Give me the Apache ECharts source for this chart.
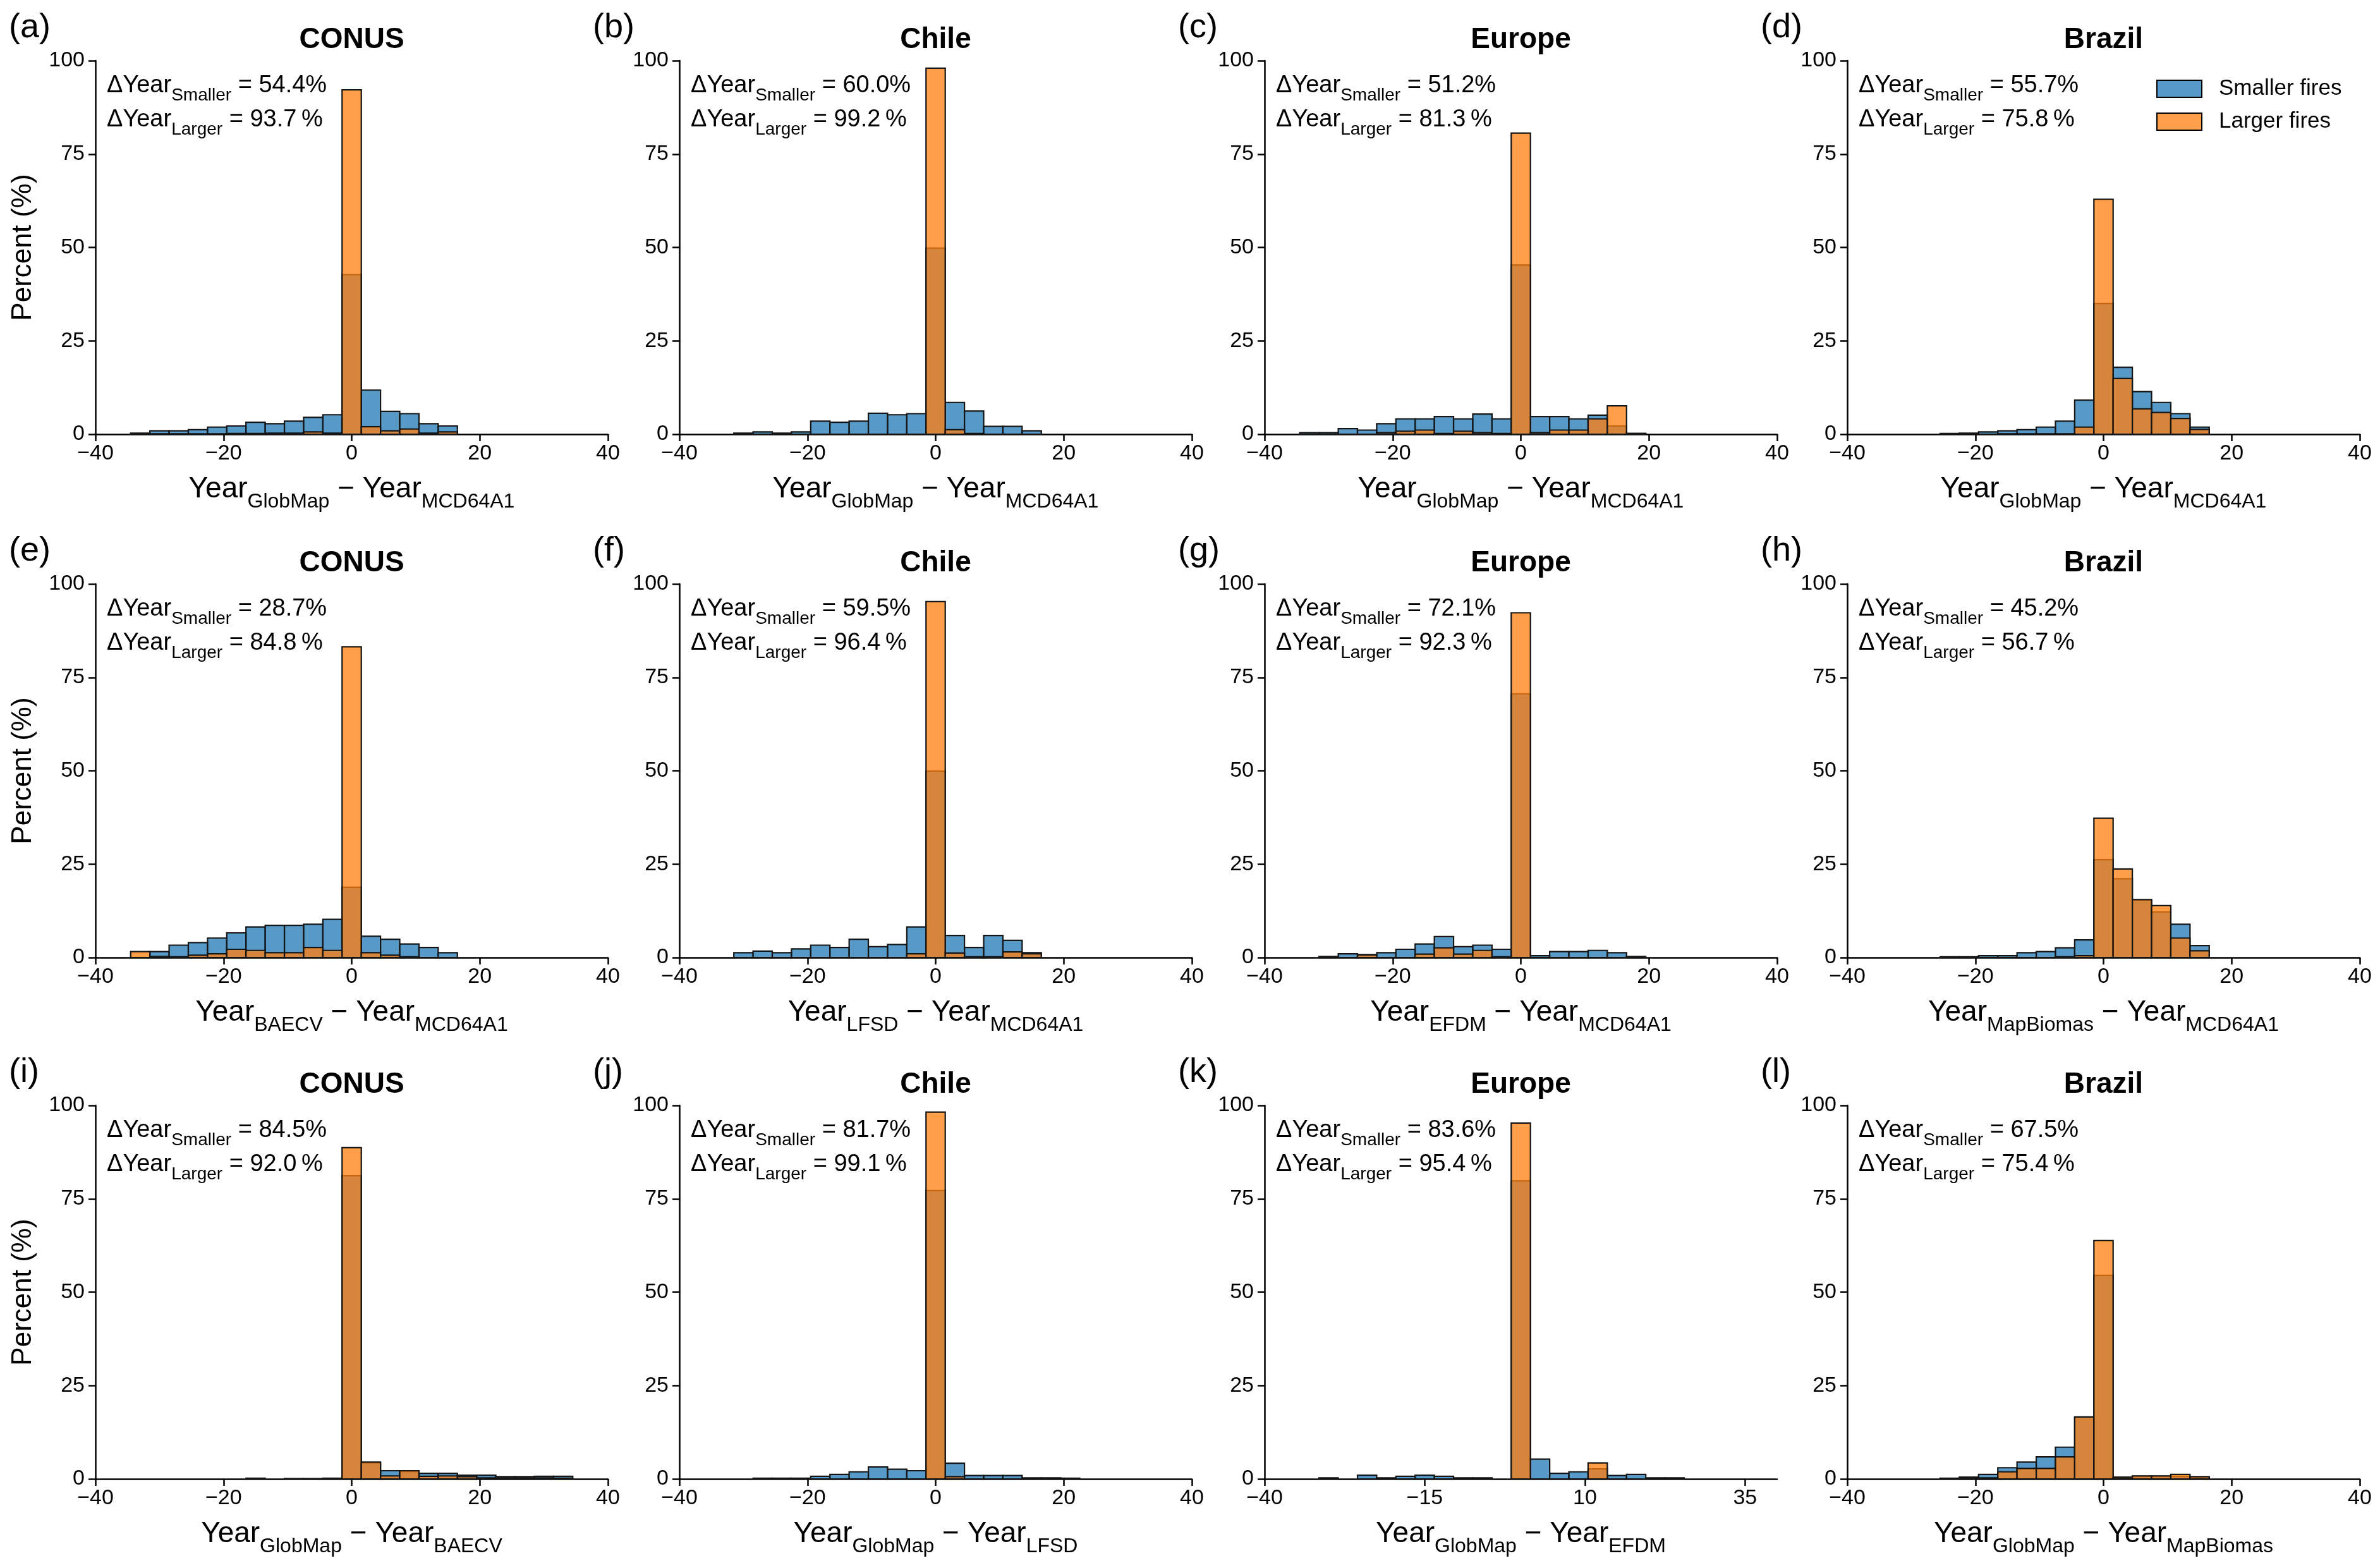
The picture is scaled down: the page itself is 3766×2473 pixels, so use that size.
<!DOCTYPE html>
<html><head><meta charset="utf-8">
<script src="https://cdn.jsdelivr.net/npm/echarts@6/dist/echarts.min.js"></script>
<style>html,body{margin:0;padding:0;background:#fff}#c{width:3766px;height:2473px}</style>
</head><body><div id="c"></div>
<script>
// ---------------- DATA ----------------
const binCenters = [-33,-30,-27,-24,-21,-18,-15,-12,-9,-6,-3,0,3,6,9,12,15,18,21,24,27,30,33];
const binWidth = 3;
const panelLetters = ['(a)','(b)','(c)','(d)','(e)','(f)','(g)','(h)','(i)','(j)','(k)','(l)'];
const regions = ['CONUS','Chile','Europe','Brazil','CONUS','Chile','Europe','Brazil','CONUS','Chile','Europe','Brazil'];
const productA = ['GlobMap','GlobMap','GlobMap','GlobMap','BAECV','LFSD','EFDM','MapBiomas','GlobMap','GlobMap','GlobMap','GlobMap'];
const productB = ['MCD64A1','MCD64A1','MCD64A1','MCD64A1','MCD64A1','MCD64A1','MCD64A1','MCD64A1','BAECV','LFSD','EFDM','MapBiomas'];
const pctSmaller = ['54.4','60.0','51.2','55.7','28.7','59.5','72.1','45.2','84.5','81.7','83.6','67.5'];
const pctLarger  = ['93.7','99.2','81.3','75.8','84.8','96.4','92.3','56.7','92.0','99.1','95.4','75.4'];
const xTicks  = [-40,-20,0,20,40];
const xTicksK = [-40,-15,10,35];
const yTicks  = [0,25,50,75,100];
const seriesNames = ['Smaller fires','Larger fires'];

const smallerA = [0.3,0.9,0.9,1.2,1.9,2.2,3.2,2.8,3.5,4.5,5.2,42.7,11.8,6.1,5.5,2.8,2.2,0,0,0,0,0,0];
const largerA  = [0,0.1,0.1,0.1,0.1,0.2,0.2,0.3,0.3,0.6,0.3,92.2,2.0,0.9,1.4,0.3,0.6,0,0,0,0,0,0];
const smallerB = [0,0.3,0.6,0.3,0.6,3.5,3.2,3.5,5.6,5.2,5.5,49.8,8.5,6.2,2.1,2.1,0.9,0,0,0,0,0,0];
const largerB  = [0,0,0,0,0,0,0,0,0,0,0,98.0,1.2,0.2,0,0,0,0,0,0,0,0,0];
const smallerC = [0.4,0.4,1.5,1.1,2.8,4.1,4.1,4.7,4.1,5.4,4.1,45.3,4.7,4.7,4.1,5.1,2.2,0.2,0,0,0,0,0];
const largerC  = [0,0,0,0,0.4,0.8,1.1,0.2,0.8,0.4,0.2,80.6,0.4,1.1,1.1,4.1,7.6,0.2,0,0,0,0,0];
const smallerD = [0,0,0,0.2,0.3,0.6,0.9,1.2,1.9,3.5,9.1,35.0,17.9,11.4,8.5,5.5,1.9,0,0,0,0,0,0];
const largerD  = [0,0,0,0,0,0,0.1,0.1,0.1,0.1,1.9,62.9,14.9,6.8,5.8,4.2,1.3,0,0,0,0,0,0];
const smallerE = [0,1.6,3.3,4.0,5.2,6.6,8.2,8.6,8.6,8.9,10.2,18.8,5.7,4.9,3.6,2.7,1.3,0,0,0,0,0,0];
const largerE  = [1.6,0.3,0.2,0.6,1.0,2.2,1.9,1.3,1.3,2.7,1.9,83.2,1.3,0.6,0.2,0,0,0,0,0,0,0,0];
const smallerF = [0,1.3,1.7,1.3,2.3,3.3,2.7,4.9,2.9,3.5,8.2,49.9,5.9,2.7,5.9,4.6,1.3,0,0,0,0,0,0];
const largerF  = [0,0,0,0,0,0,0,0,0,0,1.0,95.3,1.2,0.2,0.2,1.5,1.0,0,0,0,0,0,0];
const smallerG = [0,0.3,1.0,0.8,1.3,2.2,3.6,5.6,2.9,3.3,2.2,70.6,0.5,1.6,1.6,1.9,1.3,0.3,0,0,0,0,0];
const largerG  = [0,0,0,0.7,0,0,0.9,2.6,0.9,1.9,0.2,92.3,0,0,0,0,0,0,0,0,0,0,0];
const smallerH = [0,0,0,0.2,0.2,0.5,0.5,1.3,1.6,2.6,4.7,26.2,21.1,15.4,12.2,8.9,3.2,0,0,0,0,0,0];
const largerH  = [0,0,0,0,0,0,0,0,0,0.2,0.5,37.3,23.7,15.5,13.9,5.2,1.8,0,0,0,0,0,0];
const smallerI = [0,0,0,0,0,0,0.2,0,0.1,0.1,0.2,81.2,4.3,2.2,2.0,1.5,1.5,1.0,1.0,0.6,0.6,0.7,0.7];
const largerI  = [0,0,0,0,0,0,0,0,0,0,0,88.7,4.5,0.8,2.2,0.7,0.8,0.6,0.3,0.3,0.3,0.3,0.2];
const smallerJ = [0,0,0.2,0.2,0.2,0.7,1.2,1.9,3.2,2.6,2.2,77.2,4.2,0.9,0.9,0.9,0.3,0.3,0.2,0,0,0,0];
const largerJ  = [0,0,0,0,0,0,0,0,0,0,0,98.2,0.6,0,0,0,0,0,0,0,0,0,0];
const smallerK = [0,0.3,0,1.0,0.3,0.7,1.0,0.7,0.3,0.3,0,79.8,5.3,1.5,1.9,2.7,0.9,1.2,0.3,0.3,0,0,0];
const largerK  = [0,0,0,0,0,0,0,0,0,0,0,95.3,0,0,0,4.3,0,0,0,0,0,0,0];
const smallerL = [0,0,0,0.2,0.5,1.2,3.0,4.5,5.9,8.5,16.5,54.5,0.5,0.7,0.7,0.7,0.3,0,0,0,0,0,0];
const largerL  = [0,0,0,0.1,0.3,0.3,1.9,2.8,2.8,5.9,16.6,63.8,0.4,0.8,0.8,1.2,0.6,0,0,0,0,0,0];

const smallerAll = [smallerA,smallerB,smallerC,smallerD,smallerE,smallerF,smallerG,smallerH,smallerI,smallerJ,smallerK,smallerL];
const largerAll  = [largerA,largerB,largerC,largerD,largerE,largerF,largerG,largerH,largerI,largerJ,largerK,largerL];

// ---------------- LAYOUT / STYLE ----------------
const FONT = 'Liberation Sans, Arial, Helvetica, sans-serif';
const colLeft = [151, 1075, 2001, 2923];
const rowTop = [96, 924, 1749];
const gridW = 811, gridH = 591;
const BLUE = 'rgba(31,119,180,0.75)';
const ORANGE = 'rgba(255,127,14,0.75)';
const EDGE = '#151515';

const chart = echarts.init(document.getElementById('c'), null, {renderer: 'canvas'});

function makeRender(fill) {
  return function (params, api) {
    const c = api.value(0), v = api.value(1);
    if (!(v > 0)) return null;
    const p1 = api.coord([c - binWidth / 2, v]);
    const p2 = api.coord([c + binWidth / 2, 0]);
    return {
      type: 'rect',
      shape: {x: p1[0], y: p1[1], width: p2[0] - p1[0], height: p2[1] - p1[1]},
      style: {fill: fill, stroke: EDGE, lineWidth: 2.2}
    };
  };
}
const minusFmt = v => (v < 0 ? '\u2212' + Math.abs(v) : String(v));

const grids = [], xAxes = [], yAxes = [], series = [], graphics = [];
for (let i = 0; i < 12; i++) {
  const r = Math.floor(i / 4), c = i % 4;
  const L = colLeft[c], T = rowTop[r];
  grids.push({left: L, top: T, width: gridW, height: gridH, containLabel: false});
  const ticks = (i === 10) ? xTicksK : xTicks;
  xAxes.push({
    gridIndex: i, type: 'value', min: -40, max: 40,
    axisLine: {show: true, onZero: false, lineStyle: {color: '#000', width: 2.5}},
    axisTick: {show: true, length: 11, lineStyle: {color: '#000', width: 2.5}, customValues: ticks},
    axisLabel: {show: true, customValues: ticks, formatter: minusFmt, fontSize: 34, fontFamily: FONT, color: '#000', margin: 14},
    splitLine: {show: false}
  });
  yAxes.push({
    gridIndex: i, type: 'value', min: 0, max: 100, interval: 25,
    name: c === 0 ? 'Percent (%)' : '', nameLocation: 'middle', nameGap: 92,
    nameTextStyle: {fontSize: 44, fontFamily: FONT, color: '#000'},
    axisLine: {show: true, onZero: false, lineStyle: {color: '#000', width: 2.5}},
    axisTick: {show: true, length: 11, lineStyle: {color: '#000', width: 2.5}, customValues: yTicks},
    axisLabel: {show: true, customValues: yTicks, fontSize: 34, fontFamily: FONT, color: '#000', margin: 17},
    splitLine: {show: false}
  });
  const sets = [smallerAll[i], largerAll[i]];
  const fills = [BLUE, ORANGE];
  for (let s = 0; s < 2; s++) {
    series.push({
      type: 'custom', name: seriesNames[s], xAxisIndex: i, yAxisIndex: i,
      renderItem: makeRender(fills[s]),
      itemStyle: {color: fills[s]},
      data: binCenters.map((b, k) => [b, sets[s][k]]),
      silent: true, animation: false, z: 2 + s
    });
  }
  // panel letter
  graphics.push({type: 'text', x: L - 137, y: T - 52, style: {text: panelLetters[i], fontSize: 54, fontFamily: FONT, fill: '#000', align: 'left', verticalAlign: 'middle'}});
  // region title
  graphics.push({type: 'text', x: L + gridW / 2, y: T - 33, style: {text: regions[i], fontSize: 46, fontWeight: 'bold', fontFamily: FONT, fill: '#000', align: 'center', verticalAlign: 'middle'}});
  // annotations
  const annRich = {
    b: {fontSize: 38, fontFamily: FONT, lineHeight: 45, verticalAlign: 'top', fill: '#000'},
    s: {fontSize: 28, fontFamily: FONT, lineHeight: 69, fill: '#000'}
  };
  graphics.push({type: 'text', x: L + 18, y: T + 21, style: {text: '{b|\u0394Year}{s|Smaller}{b| = ' + pctSmaller[i] + '%}', rich: annRich, align: 'left', verticalAlign: 'top'}});
  graphics.push({type: 'text', x: L + 18, y: T + 75, style: {text: '{b|\u0394Year}{s|Larger}{b| = ' + pctLarger[i] + '\u2009%}', rich: annRich, align: 'left', verticalAlign: 'top'}});
  // x axis title
  const axRich = {
    b: {fontSize: 46, fontFamily: FONT, lineHeight: 54, verticalAlign: 'top', fill: '#000'},
    s: {fontSize: 32, fontFamily: FONT, lineHeight: 87, fill: '#000'}
  };
  graphics.push({type: 'text', x: L + gridW / 2, y: T + gridH + 64, style: {text: '{b|Year}{s|' + productA[i] + '}{b| \u2212 Year}{s|' + productB[i] + '}', rich: axRich, align: 'center', verticalAlign: 'top'}});
}

chart.setOption({
  backgroundColor: '#fff',
  animation: false,
  grid: grids, xAxis: xAxes, yAxis: yAxes, series: series,
  legend: {
    data: seriesNames, orient: 'vertical', left: 3407, top: 118,
    itemWidth: 71, itemHeight: 27, itemGap: 17, icon: 'rect', selectedMode: false,
    itemStyle: {borderColor: '#000', borderWidth: 2},
    textStyle: {fontSize: 35, fontFamily: FONT, color: '#000', padding: [0, 0, 0, 22]}
  },
  graphic: graphics
});
</script>
</body></html>
